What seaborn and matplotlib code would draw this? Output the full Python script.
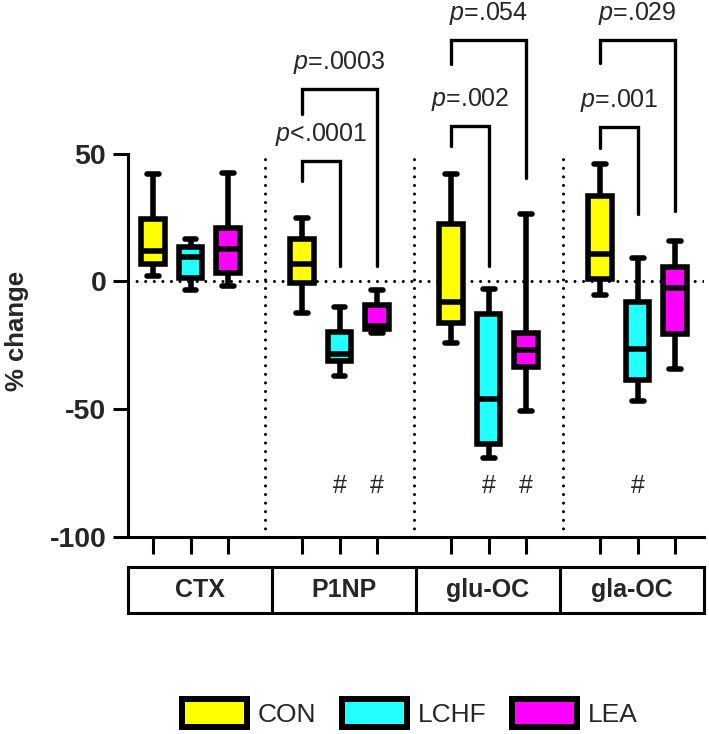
import numpy as np
import pandas as pd
import matplotlib.pyplot as plt
import seaborn as sns
from matplotlib.patches import Patch

# five-number summaries (min, q1, median, q3, max)
markers = ['CTX', 'P1NP', 'glu-OC', 'gla-OC']
diets = ['CON', 'LCHF', 'LEA']
colors = ['#FFFF00', '#22FFFF', '#FF00FF']

con = [[2, 6.7, 12, 24.5, 42],
       [-12.4, -0.8, 7, 16.8, 24.8],
       [-24.1, -16.2, -8.2, 22.4, 42],
       [-5.2, 0.9, 10.7, 33.3, 46]]
lchf = [[-3.5, 1.5, 9.5, 13.3, 16.6],
        [-36.9, -31.1, -28.3, -19.8, -9.9],
        [-69.2, -63.8, -46, -12.6, -2.9],
        [-47, -38.5, -26.4, -7.9, 9.2]]
lea = [[-1.7, 3.4, 12.7, 21, 42.5],
       [-20.4, -18.6, -17.4, -9.1, -3.3],
       [-50.6, -33.5, -26.8, -20.3, 26.5],
       [-34.3, -20.7, -2.6, 5.8, 15.7]]

# significance brackets: marker, diet from, diet to, top, left leg end, right leg end, label
br_marker = ['P1NP', 'P1NP', 'glu-OC', 'glu-OC', 'gla-OC', 'gla-OC']
br_from = ['CON', 'CON', 'CON', 'CON', 'CON', 'CON']
br_to = ['LCHF', 'LEA', 'LCHF', 'LEA', 'LCHF', 'LEA']
br_top = [47, 75.4, 61, 94.7, 60.5, 94.7]
br_left = [39.2, 65.7, 53.2, 85.3, 52.3, 85.5]
br_right = [5.9, 5.9, 5.9, 40.5, 26.4, 27.4]
br_label = ['<.0001', '=.0003', '=.002', '=.054', '=.001', '=.029']

# groups different from baseline
hash_marker = ['P1NP', 'P1NP', 'glu-OC', 'glu-OC', 'gla-OC']
hash_diet = ['LCHF', 'LEA', 'LCHF', 'LEA', 'LCHF']
hash_y = -80

rows = []
for stats, diet in zip([con, lchf, lea], diets):
    for m, vals in zip(markers, stats):
        for v in vals:
            rows.append({'marker': m, 'diet': diet, 'value': v})
df = pd.DataFrame(rows)

sns.set_theme(style='ticks')
plt.rcParams['font.family'] = ['Liberation Sans', 'DejaVu Sans']
plt.rcParams['mathtext.fontset'] = 'custom'
plt.rcParams['mathtext.it'] = 'Liberation Sans:italic'
plt.rcParams['mathtext.rm'] = 'Liberation Sans'

fig = plt.figure(figsize=(7.09, 7.34), dpi=100)
ax = fig.add_axes([0.1801, 0.2688, 0.8129, 0.7304])

width = 0.75
sns.boxplot(data=df, x='marker', y='value', hue='diet', order=markers, hue_order=diets,
            palette=colors, saturation=1, width=width, gap=0.36, whis=(0, 100),
            linewidth=4, linecolor='black', showfliers=False, legend=False, ax=ax,
            capprops={'solid_capstyle': 'round'}, zorder=3)

offsets = (np.arange(len(diets)) - (len(diets) - 1) / 2) * width / len(diets)
pos = {(m, d): i + offsets[j] for i, m in enumerate(markers) for j, d in enumerate(diets)}

yticks = [-100, -50, 0, 50]
ax.set_ylim(-100, 110)
ax.set_xlim(-0.4215, 3.446)
ax.set_yticks(yticks)
ax.set_yticklabels([str(t) for t in yticks], fontsize=20.5, fontweight='bold')
ax.set_xticks(sorted(pos.values()))
ax.set_xticklabels([])
ax.set_xlabel('')
ax.set_ylabel('')
ax.tick_params(axis='y', length=10.5, width=2.2, pad=5, color='black')
ax.tick_params(axis='x', length=12, width=2.2, color='black')
for s in ['top', 'right']:
    ax.spines[s].set_visible(False)
for s in ['left', 'bottom']:
    ax.spines[s].set_linewidth(2.2)
    ax.spines[s].set_color('black')
ax.spines['left'].set_bounds(yticks[0], yticks[-1])

dots = (0, (0.01, 2.8))
ax.axhline(0, color='black', lw=2.2, linestyle=dots, dash_capstyle='round', zorder=1)
for i in range(len(markers) - 1):
    ax.plot([i + 0.5, i + 0.5], [yticks[0], yticks[-1]], color='black', lw=2.2,
            linestyle=dots, dash_capstyle='round', zorder=1)

for m, d0, d1, top, yl, yr, lab in zip(br_marker, br_from, br_to, br_top, br_left, br_right, br_label):
    x0, x1 = pos[(m, d0)], pos[(m, d1)]
    ax.plot([x0, x0, x1, x1], [yl, top, top, yr], color='black', lw=2.4,
            solid_joinstyle='miter', clip_on=False, zorder=4)
    ax.text((x0 + x1) / 2, top + 10.4, r'$\it{p}$' + lab, ha='center', va='center',
            fontsize=18, clip_on=False)

for m, d in zip(hash_marker, hash_diet):
    ax.text(pos[(m, d)], hash_y, '#', ha='center', va='center', fontsize=18)

fig.text(0.024, 0.549, '% change', rotation=90, ha='center', va='center',
         fontsize=18.5, fontweight='bold')

# category boxes under the axis
lab_ax = fig.add_axes([0.1801, 0.1649, 0.8129, 0.0627])
lab_ax.set_xlim(0, len(markers))
lab_ax.set_ylim(0, 1)
lab_ax.set_xticks([])
lab_ax.set_yticks([])
for s in lab_ax.spines.values():
    s.set_linewidth(2.2)
    s.set_color('black')
for i, m in enumerate(markers):
    lab_ax.text(i + 0.5, 0.5, m, ha='center', va='center', fontsize=18, fontweight='bold')
    if i > 0:
        lab_ax.axvline(i, color='black', lw=2.2)

handles = [Patch(facecolor=c, edgecolor='black', linewidth=4.3, label=d)
           for c, d in zip(colors, diets)]
fig.legend(handles=handles, loc='center', bbox_to_anchor=(0.578, 0.028), ncol=3,
           frameon=False, fontsize=19, handlelength=2.45, handleheight=1.25,
           handletextpad=0.4, columnspacing=1.0)

fig.savefig('out.png', dpi=100)
